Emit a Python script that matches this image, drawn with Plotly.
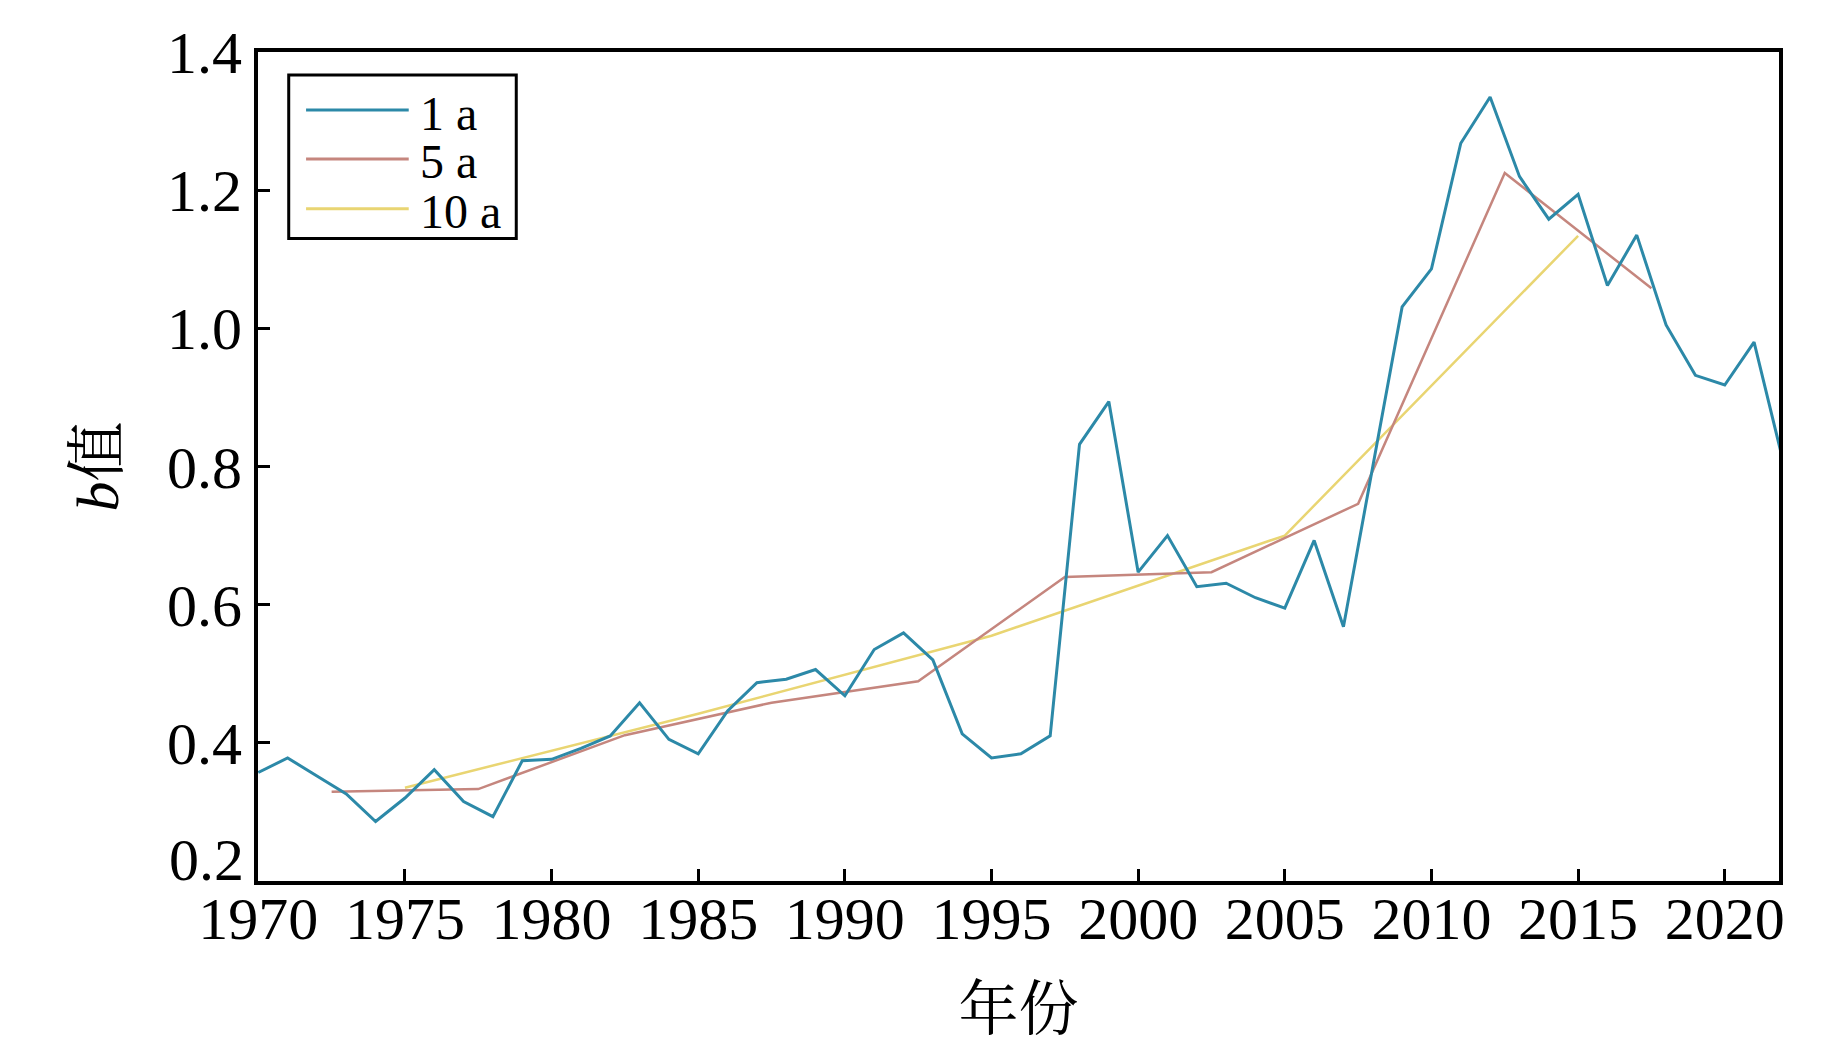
import plotly.graph_objects as go

# ---- data ----
years_1a = list(range(1970, 2023))
b_1a = [0.357, 0.378, 0.352, 0.326, 0.286, 0.320, 0.361, 0.315, 0.293, 0.374,
        0.376, 0.392, 0.410, 0.458, 0.405, 0.384, 0.446, 0.487, 0.492, 0.506,
        0.468, 0.535, 0.559, 0.520, 0.413, 0.378, 0.384, 0.410, 0.832, 0.894,
        0.647, 0.700, 0.626, 0.631, 0.610, 0.595, 0.693, 0.568, 0.800, 1.031,
        1.086, 1.268, 1.335, 1.220, 1.158, 1.194, 1.062, 1.135, 1.005, 0.932,
        0.918, 0.980, 0.806]

years_5a = [1972.5, 1977.5, 1982.5, 1987.5, 1992.5, 1997.5, 2002.5, 2007.5, 2012.5, 2017.5]
b_5a = [0.329, 0.333, 0.411, 0.458, 0.489, 0.640, 0.647, 0.746, 1.225, 1.058]

years_10a = [1975, 1985, 1995, 2005, 2015]
b_10a = [0.335, 0.442, 0.555, 0.700, 1.134]

series_names = ["1 a", "5 a", "10 a"]
x_ticks = [1970, 1975, 1980, 1985, 1990, 1995, 2000, 2005, 2010, 2015, 2020]
y_ticks = [0.2, 0.4, 0.6, 0.8, 1.0, 1.2, 1.4]
y_ticktext = ["0.2", "0.4", "0.6", "0.8", "1.0", "1.2", "1.4"]

colors = ["#2c89a8", "#c5867e", "#e9d572"]
widths = [3, 2.5, 2.5]

FONT = "Liberation Serif, 'Noto Serif CJK SC', 'Noto Sans CJK SC', serif"

fig = go.Figure()
fig.add_trace(go.Scatter(x=years_10a, y=b_10a, mode="lines", name=series_names[2],
                         line=dict(color=colors[2], width=widths[2])))
fig.add_trace(go.Scatter(x=years_5a, y=b_5a, mode="lines", name=series_names[1],
                         line=dict(color=colors[1], width=widths[1])))
fig.add_trace(go.Scatter(x=years_1a, y=b_1a, mode="lines", name=series_names[0],
                         line=dict(color=colors[0], width=widths[0])))

# ---- hand-drawn legend box (matches reference's long line samples) ----
shapes = [dict(type="rect", xref="paper", yref="paper", x0=0.0202, x1=0.1698,
               y0=0.775, y1=0.9723, line=dict(color="black", width=3),
               fillcolor="white", layer="above")]
annotations = []
row_y = [0.930, 0.871, 0.811]
for name, col, ry in zip(series_names, colors, row_y):
    shapes.append(dict(type="line", xref="paper", yref="paper", x0=0.0316, x1=0.0991,
                       y0=ry, y1=ry, line=dict(color=col, width=3), layer="above"))
    annotations.append(dict(text=name, xref="paper", yref="paper", x=0.1052, y=ry,
                            xanchor="left", yanchor="middle", showarrow=False,
                            yshift=-3, font=dict(family=FONT, size=48, color="black")))

# lowest y label is raised above the corner in the reference (avoids the 1970 label)
annotations.append(dict(text=y_ticktext[0], xref="paper", yref="y", x=0, y=y_ticks[0],
                        xanchor="right", yanchor="middle", xshift=-12, yshift=21,
                        showarrow=False, font=dict(family=FONT, size=60, color="black")))

fig.update_layout(
    width=1843, height=1043,
    margin=dict(l=250, r=72, t=42, b=170),
    paper_bgcolor="white", plot_bgcolor="white",
    showlegend=False,
    font=dict(family=FONT, size=60, color="black"),
    shapes=shapes, annotations=annotations,
    xaxis=dict(range=[1969.99, 2021.85], tickmode="array", tickvals=x_ticks,
               ticks="inside", ticklen=12, tickwidth=3, tickcolor="black",
               showline=True, linewidth=4, linecolor="black", mirror=True,
               showgrid=False, zeroline=False, ticklabelstandoff=-18,
               tickfont=dict(family=FONT, size=60),
               title=dict(text="年份", font=dict(family=FONT, size=60), standoff=38)),
    yaxis=dict(range=[0.1999, 1.4001], tickmode="array", tickvals=y_ticks,
               ticktext=[""] + y_ticktext[1:],
               ticks="inside", ticklen=12, tickwidth=3, tickcolor="black",
               showline=True, linewidth=4, linecolor="black", mirror=True,
               showgrid=False, zeroline=False,
               tickfont=dict(family=FONT, size=60),
               title=dict(text="<i>b</i>值", font=dict(family=FONT, size=60), standoff=30)),
)

fig.write_html("out.html")
